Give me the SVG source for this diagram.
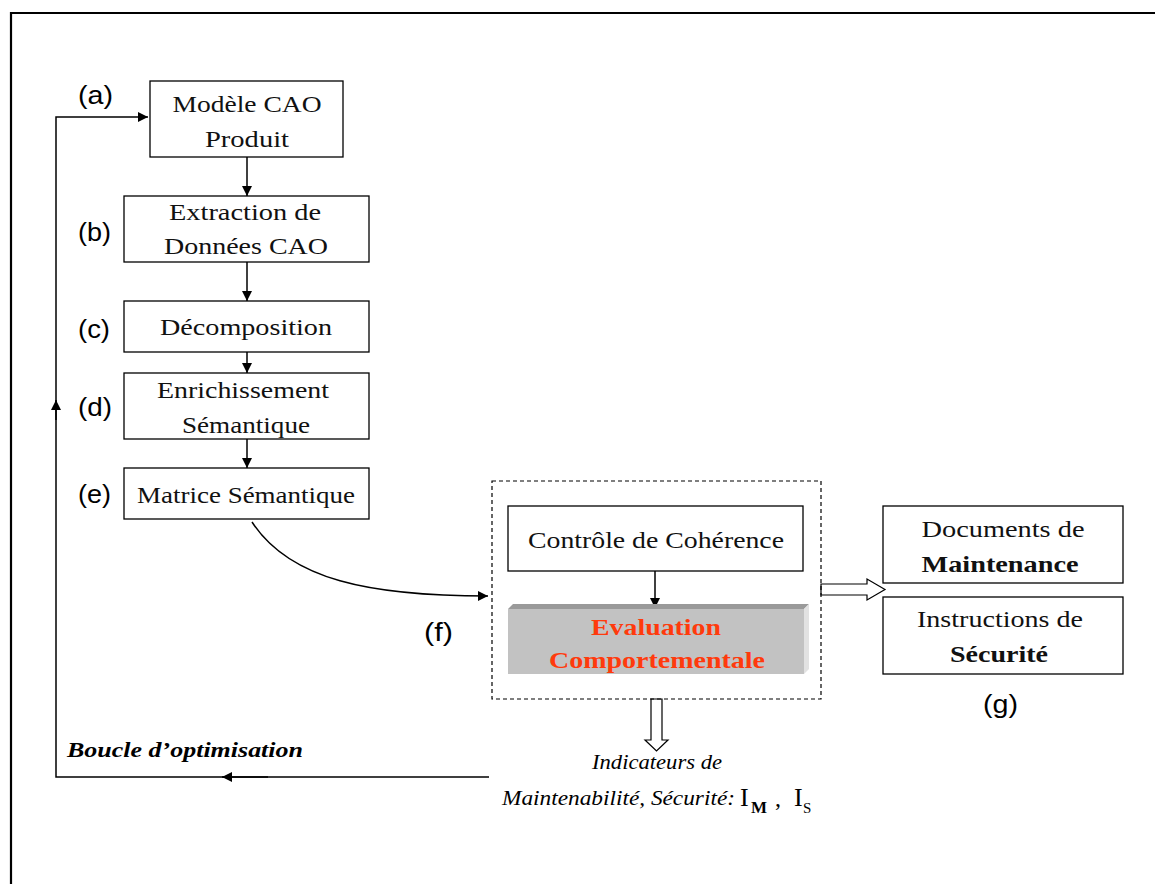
<svg xmlns="http://www.w3.org/2000/svg" width="1155" height="884" viewBox="0 0 1155 884">
  <style>
    .box { fill: #ffffff; stroke: #000000; stroke-width: 1.3; }
    .lbl { font-family: "Liberation Serif", "DejaVu Serif", serif; font-size: 24px; fill: #111111; text-anchor: middle; }
    .bold { font-weight: bold; }
    .red { fill: #ff3a0c; font-weight: bold; }
    .tag { font-family: "Liberation Sans", Arial, sans-serif; font-size: 26px; fill: #000000; }
    .ital { font-family: "Liberation Serif", "DejaVu Serif", serif; font-style: italic; font-size: 22px; fill: #000000; }
    .line { fill: none; stroke: #000000; stroke-width: 1.5; }
    .hollow { fill: #ffffff; stroke: #000000; stroke-width: 1.2; }
  </style>
  <defs>
    <marker id="arr" viewBox="0 0 10 10" refX="10" refY="5" markerWidth="10" markerHeight="10" markerUnits="userSpaceOnUse" orient="auto">
      <path d="M0,0 L10,5 L0,10 z" fill="#000000"/>
    </marker>
  </defs>

  <rect width="1155" height="884" fill="#ffffff"/>
  <!-- outer frame -->
  <path d="M11,884 L11,13 L1155,13" fill="none" stroke="#000000" stroke-width="2.2"/>

  <!-- connectors -->
  <g id="connectors">
    <line class="line" x1="247" y1="157" x2="247" y2="196" marker-end="url(#arr)"/>
    <line class="line" x1="247" y1="262" x2="247" y2="301" marker-end="url(#arr)"/>
    <line class="line" x1="247" y1="352" x2="247" y2="373" marker-end="url(#arr)"/>
    <line class="line" x1="247" y1="439" x2="247" y2="468" marker-end="url(#arr)"/>
    <line class="line" x1="655" y1="571" x2="655" y2="608" marker-end="url(#arr)"/>
    <!-- semantic matrix to evaluation block -->
    <path class="line" d="M252,522 C290,580 370,596 488,596" marker-end="url(#arr)"/>
    <!-- optimisation loop -->
    <path class="line" d="M489,777 L56,777 L56,117 L148,117" marker-end="url(#arr)"/>
    <line class="line" x1="268" y1="777" x2="222" y2="777" marker-end="url(#arr)"/>
    <line class="line" x1="56" y1="420" x2="56" y2="400" marker-end="url(#arr)"/>
    <!-- hollow output arrows -->
    <path class="hollow" d="M821,584 L867,584 L867,579 L885,589.5 L867,600 L867,595 L821,595 z"/>
    <path class="hollow" d="M651,699 L651,740 L645,740 L656.5,751 L668,740 L662,740 L662,699 z"/>
  </g>

  <!-- (a) CAD model -->
  <g id="node-a">
    <rect class="box" x="150" y="81" width="193" height="76"/>
    <text class="lbl" x="247" y="112" textLength="149" lengthAdjust="spacingAndGlyphs">Modèle CAO</text>
    <text class="lbl" x="247" y="147" textLength="84" lengthAdjust="spacingAndGlyphs">Produit</text>
    <text class="tag" x="78" y="104" textLength="35" lengthAdjust="spacingAndGlyphs">(a)</text>
  </g>

  <!-- (b) data extraction -->
  <g id="node-b">
    <rect class="box" x="124" y="196" width="245" height="66"/>
    <text class="lbl" x="245" y="220" textLength="152" lengthAdjust="spacingAndGlyphs">Extraction de</text>
    <text class="lbl" x="246" y="254" textLength="164" lengthAdjust="spacingAndGlyphs">Données CAO</text>
    <text class="tag" x="78" y="241" textLength="33" lengthAdjust="spacingAndGlyphs">(b)</text>
  </g>

  <!-- (c) decomposition -->
  <g id="node-c">
    <rect class="box" x="124" y="301" width="245" height="51"/>
    <text class="lbl" x="246" y="335" textLength="172" lengthAdjust="spacingAndGlyphs">Décomposition</text>
    <text class="tag" x="78" y="338" textLength="32" lengthAdjust="spacingAndGlyphs">(c)</text>
  </g>

  <!-- (d) semantic enrichment -->
  <g id="node-d">
    <rect class="box" x="124" y="373" width="245" height="66"/>
    <text class="lbl" x="243" y="398" textLength="172" lengthAdjust="spacingAndGlyphs">Enrichissement</text>
    <text class="lbl" x="246" y="433" textLength="128" lengthAdjust="spacingAndGlyphs">Sémantique</text>
    <text class="tag" x="78" y="416" textLength="34" lengthAdjust="spacingAndGlyphs">(d)</text>
  </g>

  <!-- (e) semantic matrix -->
  <g id="node-e">
    <rect class="box" x="124" y="468" width="245" height="51"/>
    <text class="lbl" x="246" y="503" textLength="218" lengthAdjust="spacingAndGlyphs">Matrice Sémantique</text>
    <text class="tag" x="78" y="503" textLength="33" lengthAdjust="spacingAndGlyphs">(e)</text>
  </g>

  <!-- (f) evaluation block -->
  <g id="node-f">
    <rect x="492" y="481" width="329" height="218" fill="none" stroke="#000000" stroke-width="1.2" stroke-dasharray="4,3"/>
    <rect class="box" x="508" y="506" width="295" height="65"/>
    <text class="lbl" x="656" y="548" textLength="256" lengthAdjust="spacingAndGlyphs">Contrôle de Cohérence</text>
    <!-- bevelled slab -->
    <polygon points="508,609 513,604 809,604 804,609" fill="#9a9a9a"/>
    <polygon points="804,609 809,604 809,669 804,674" fill="#e2e2e2"/>
    <rect x="508" y="609" width="296" height="65" fill="#c2c2c2"/>
    <text class="lbl red" x="656" y="635" textLength="130" lengthAdjust="spacingAndGlyphs">Evaluation</text>
    <text class="lbl red" x="657" y="668" textLength="216" lengthAdjust="spacingAndGlyphs">Comportementale</text>
    <text class="tag" x="424" y="641" textLength="29" lengthAdjust="spacingAndGlyphs">(f)</text>
  </g>

  <!-- (g) outputs -->
  <g id="node-g1">
    <rect class="box" x="883" y="506" width="240" height="77"/>
    <text class="lbl" x="1003" y="537" textLength="163" lengthAdjust="spacingAndGlyphs">Documents de</text>
    <text class="lbl bold" x="1000" y="572" textLength="157" lengthAdjust="spacingAndGlyphs">Maintenance</text>
  </g>
  <g id="node-g2">
    <rect class="box" x="883" y="597" width="240" height="77"/>
    <text class="lbl" x="1000" y="627" textLength="166" lengthAdjust="spacingAndGlyphs">Instructions de</text>
    <text class="lbl bold" x="999" y="662" textLength="98" lengthAdjust="spacingAndGlyphs">Sécurité</text>
    <text class="tag" x="983" y="713" textLength="35" lengthAdjust="spacingAndGlyphs">(g)</text>
  </g>

  <!-- loop and indicator labels -->
  <g id="labels">
    <text x="67" y="757" font-family="'Liberation Serif', 'DejaVu Serif', serif" font-size="21" font-weight="bold" font-style="italic" textLength="236" lengthAdjust="spacingAndGlyphs">Boucle d’optimisation</text>
    <text class="ital" x="592" y="769" font-size="23" textLength="130" lengthAdjust="spacingAndGlyphs">Indicateurs de</text>
    <text class="ital" x="502" y="805" font-size="23" textLength="233" lengthAdjust="spacingAndGlyphs">Maintenabilité, Sécurité:</text>
    <text x="740" y="806" font-family="'Liberation Serif', serif" font-size="26" fill="#000">I</text>
    <text x="751" y="813" font-family="'Liberation Serif', serif" font-size="17" font-weight="bold" fill="#000">M</text>
    <text x="775" y="806" font-family="'Liberation Serif', serif" font-size="24" fill="#000">,</text>
    <text x="794" y="806" font-family="'Liberation Serif', serif" font-size="26" fill="#000">I</text>
    <text x="803" y="813" font-family="'Liberation Serif', serif" font-size="15" fill="#000">S</text>
  </g>
</svg>
